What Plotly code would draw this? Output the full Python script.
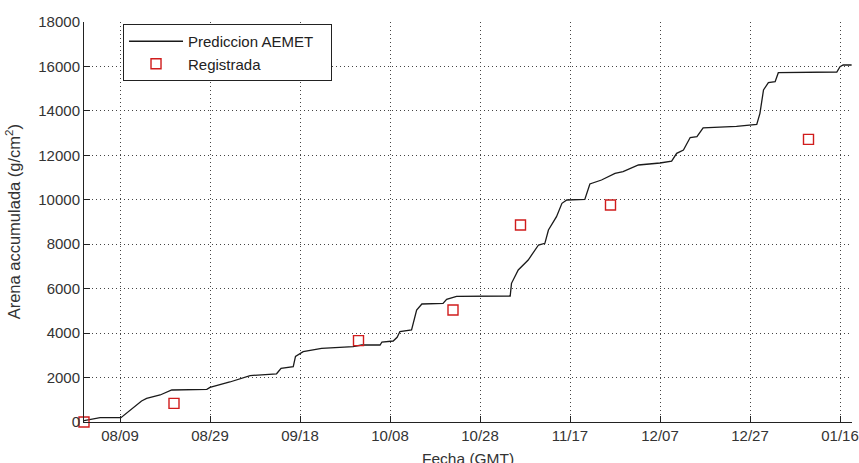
import plotly.graph_objects as go

# Prediccion AEMET (accumulated sand, g/cm2)
pred_fecha = [
    "2013-08-01 00:00", "2013-08-04 14:00", "2013-08-09 05:00", "2013-08-11 05:00",
    "2013-08-13 19:00", "2013-08-14 22:00", "2013-08-17 22:00", "2013-08-20 12:00",
    "2013-08-28 07:00", "2013-08-29 00:00", "2013-09-02 10:00", "2013-09-06 22:00",
    "2013-09-12 19:00", "2013-09-13 19:00", "2013-09-16 12:00", "2013-09-17 00:00",
    "2013-09-18 17:00", "2013-09-22 19:00", "2013-09-29 19:00", "2013-10-01 17:00",
    "2013-10-05 19:00", "2013-10-06 05:00", "2013-10-08 17:00", "2013-10-09 14:00",
    "2013-10-10 05:00", "2013-10-12 19:00", "2013-10-13 05:00", "2013-10-13 22:00",
    "2013-10-15 02:00", "2013-10-19 19:00", "2013-10-20 14:00", "2013-10-22 19:00",
    "2013-11-03 17:00", "2013-11-04 00:00", "2013-11-05 12:00", "2013-11-07 17:00",
    "2013-11-10 00:00", "2013-11-11 10:00", "2013-11-12 05:00", "2013-11-14 00:00",
    "2013-11-15 05:00", "2013-11-16 07:00", "2013-11-20 07:00", "2013-11-21 10:00",
    "2013-11-24 00:00", "2013-11-27 00:00", "2013-11-28 19:00", "2013-12-02 05:00",
    "2013-12-07 00:00", "2013-12-09 14:00", "2013-12-10 17:00", "2013-12-12 05:00",
    "2013-12-13 17:00", "2013-12-15 05:00", "2013-12-16 14:00", "2013-12-24 00:00",
    "2013-12-28 12:00", "2013-12-29 05:00", "2013-12-30 00:00", "2013-12-31 02:00",
    "2014-01-01 14:00", "2014-01-02 07:00", "2014-01-15 07:00", "2014-01-16 00:00",
    "2014-01-16 17:00", "2014-01-18 14:00",
]
pred_arena = [
    60, 195, 195, 540,
    945, 1065, 1215, 1440,
    1470, 1560, 1800, 2090,
    2170, 2415, 2490, 2950,
    3165, 3315, 3390, 3465,
    3465, 3600, 3645, 3810,
    4070, 4140, 4515, 5040,
    5310, 5340, 5520, 5655,
    5670, 6240, 6840, 7290,
    7965, 8040, 8640, 9240,
    9840, 9990, 10020, 10710,
    10890, 11190, 11265, 11565,
    11655, 11735, 12090, 12240,
    12800, 12840, 13240, 13305,
    13390, 13890, 14940, 15270,
    15315, 15720, 15750, 15990,
    16065, 16065,
]

# Registrada (measured)
reg_fecha = ["2013-08-01", "2013-08-21", "2013-10-01", "2013-10-22",
             "2013-11-06", "2013-11-26", "2014-01-09"]
reg_arena = [0, 840, 3660, 5040, 8865, 9765, 12720]

FONT = "Liberation Sans, Arial, sans-serif"


def main():
    fig = go.Figure()
    fig.add_trace(go.Scatter(
        x=pred_fecha, y=pred_arena, mode="lines",
        name="Prediccion AEMET\u00a0\u00a0\u00a0",
        line=dict(color="#1a1a1a", width=1.3),
    ))
    fig.add_trace(go.Scatter(
        x=reg_fecha, y=reg_arena, mode="markers", name="Registrada",
        marker=dict(symbol="square-open", size=10, color="#d01c1c",
                    line=dict(width=1.4, color="#d01c1c")),
        cliponaxis=False,
    ))

    grid = dict(showgrid=True, gridcolor="#444", griddash="1px,3px", gridwidth=1,
                showline=True, linecolor="#222", linewidth=1,
                ticks="inside", ticklen=6, tickcolor="#222",
                tickfont=dict(family=FONT, size=15, color="#333"),
                zeroline=False, mirror=False, automargin=False)

    fig.update_xaxes(
        type="date", range=["2013-08-01 00:00", "2014-01-18 16:00"],
        tick0="2013-08-09", dtick=20 * 86400000, tickformat="%m/%d",
        **grid,
    )
    fig.update_yaxes(
        range=[0, 18000], dtick=2000, tickformat="d", **grid,
    )

    fig.update_layout(
        width=859, height=463,
        margin=dict(l=84, r=7, t=22, b=41, autoexpand=False),
        paper_bgcolor="white", plot_bgcolor="white",
        font=dict(family=FONT, size=15, color="#333"),
        showlegend=True,
        legend=dict(
            x=0.0508, y=0.995, xanchor="left", yanchor="top",
            bgcolor="white", bordercolor="#222", borderwidth=1,
            font=dict(family=FONT, size=15, color="#222"),
            itemwidth=54, tracegroupgap=0,
        ),
        annotations=[
            dict(text="Fecha (GMT)", xref="paper", yref="paper",
                 x=0.5, y=-0.09, xanchor="center", yanchor="middle",
                 showarrow=False, font=dict(family=FONT, size=15.5, color="#333")),
            dict(text="Arena accumulada (g/cm<sup>2</sup>)", xref="paper", yref="paper",
                 x=-0.092, y=0.5, xanchor="center", yanchor="middle", textangle=-90,
                 showarrow=False, font=dict(family=FONT, size=16.5, color="#333")),
        ],
    )

    # drop the default 8px body margin so the figure fills the window exactly
    fig.write_html("out.html", config={"displayModeBar": False},
                   post_script="document.body.style.margin='0';"
                               "document.body.style.overflow='hidden';")


if __name__ == "__main__":
    main()
